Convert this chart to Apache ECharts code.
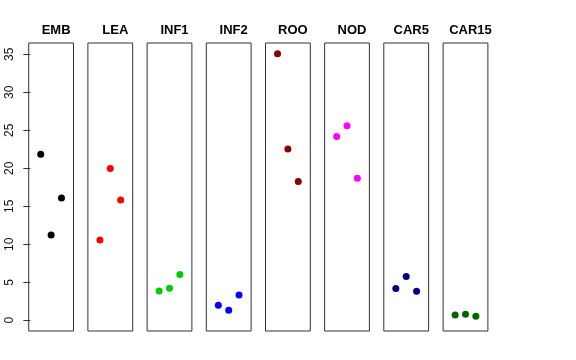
<!DOCTYPE html>
<html><head><meta charset="utf-8">
<script src="https://cdn.jsdelivr.net/npm/echarts@6/dist/echarts.min.js"></script>
<style>html,body{margin:0;padding:0;background:#fff}#c{width:576px;height:360px}</style>
</head><body><div id="c"></div>
<script>
const categories = ['EMB','LEA','INF1','INF2','ROO','NOD','CAR5','CAR15'];
const EMB = [21.84, 11.23, 16.10];
const LEA = [10.57, 19.96, 15.83];
const INF1 = [3.86, 4.21, 6.01];
const INF2 = [1.97, 1.32, 3.33];
const ROO = [35.09, 22.54, 18.25];
const NOD = [24.17, 25.61, 18.68];
const CAR5 = [4.17, 5.75, 3.82];
const CAR15 = [0.70, 0.79, 0.53];
const seriesValues = [EMB, LEA, INF1, INF2, ROO, NOD, CAR5, CAR15];
const colors = ['#000000','#FF0000','#00CD00','#0000FF','#8B0000','#FF00FF','#00008B','#006400'];
const yTicks = [0,5,10,15,20,25,30,35];

const chart = echarts.init(document.getElementById('c'), null, {renderer:'canvas'});
const lefts = [28.7, 87.9, 147.1, 206.3, 265.5, 324.6, 383.8, 443.1];
const W = 44.8, TOP = 43, H = 288;
const grid = [], xAxis = [], yAxis = [], series = [], title = [];
categories.forEach((c, i) => {
  grid.push({left: lefts[i], top: TOP, width: W, height: H, show: true, borderColor: '#333', borderWidth: 1, backgroundColor: 'transparent'});
  xAxis.push({type:'value', gridIndex:i, min:-0.16, max:4.16, show:false});
  yAxis.push({type:'value', gridIndex:i, min:-1.41, max:36.49, show: i===0,
    axisLine:{show:false},
    axisTick:{show:true, length:7, lineStyle:{color:'#333'}, customValues: yTicks},
    axisLabel:{show:true, rotate:90, margin:13, color:'#111', fontSize:12, fontFamily:'Liberation Sans, Arial, sans-serif', customValues: yTicks},
    splitLine:{show:false}});
  series.push({type:'scatter', xAxisIndex:i, yAxisIndex:i, symbolSize:7,
    itemStyle:{color:colors[i], opacity:1}, data: seriesValues[i].map((v,k)=>[k+1, v]), silent:true});
  title.push({text:c, left: lefts[i] + W/2, top: 19, textAlign:'center',
    textStyle:{fontSize:13, fontWeight:'bold', color:'#000', fontFamily:'Liberation Sans, Arial, sans-serif'}});
});
chart.setOption({animation:false, title, grid, xAxis, yAxis, series});
</script></body></html>
